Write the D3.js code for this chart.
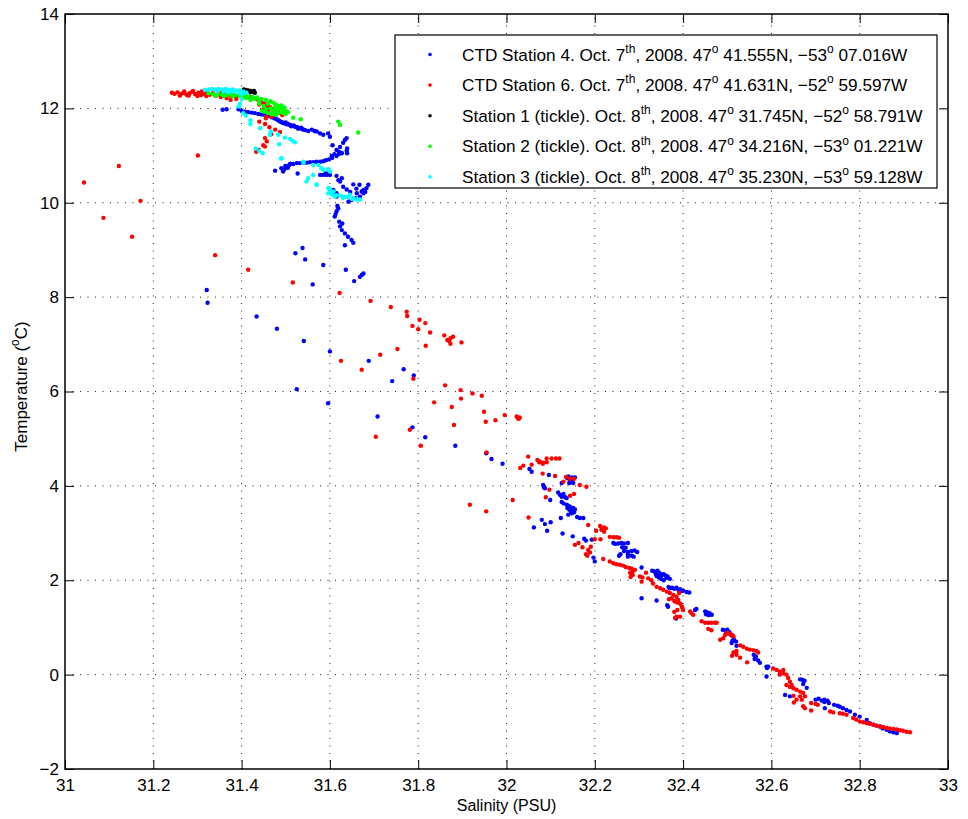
<!DOCTYPE html>
<html>
<head>
<meta charset="utf-8">
<script src="https://cdn.jsdelivr.net/npm/d3@7"></script>
<style>
  body { margin: 0; background: #fff; }
  svg { display: block; font-family: "Liberation Sans", Arial, Helvetica, sans-serif; }
</style>
</head>
<body>
<svg id="chart" width="968" height="819"></svg>
<script>
// Axis ticks
const xTicks = [31, 31.2, 31.4, 31.6, 31.8, 32, 32.2, 32.4, 32.6, 32.8, 33];
const yTicks = [-2, 0, 2, 4, 6, 8, 10, 12, 14];

// [salinity (PSU), temperature (°C)] samples for each cast
const station4 = [
  [31.357,11.97],[31.366,11.98],[31.393,11.98],[31.40,11.95],[31.408,11.93],[31.415,11.92],[31.423,11.91],[31.43,11.90],
  [31.438,11.88],[31.445,11.87],[31.453,11.86],[31.46,11.84],[31.468,11.81],[31.474,11.79],[31.479,11.77],[31.483,11.75],
  [31.487,11.72],[31.492,11.70],[31.498,11.68],[31.503,11.66],[31.51,11.65],[31.515,11.63],[31.521,11.61],[31.526,11.60],
  [31.532,11.58],[31.538,11.56],[31.544,11.54],[31.551,11.52],[31.559,11.55],[31.565,11.52],[31.57,11.51],[31.578,11.47],
  [31.585,11.44],[31.596,11.47],[31.60,11.40],[31.485,11.74],[31.49,11.71],[31.495,11.69],[31.505,11.67],[31.50,11.70],
  [31.512,11.62],[31.518,11.64],[31.528,11.57],[31.535,11.59],[31.54,11.55],
  [31.606,11.22],[31.615,11.12],[31.623,11.18],[31.63,11.27],[31.634,11.33],[31.638,11.37],[31.639,11.15],[31.627,11.05],
  [31.615,10.99],[31.604,10.99],[31.61,11.03],[31.62,11.08],
  [31.502,10.76],[31.508,10.80],[31.51,10.83],[31.517,10.82],[31.525,10.84],[31.532,10.84],[31.54,10.85],[31.548,10.85],
  [31.555,10.86],[31.563,10.86],[31.57,10.87],[31.578,10.87],[31.585,10.88],[31.591,10.90],[31.598,10.92],[31.605,10.95],
  [31.62,11.03],[31.626,11.06],[31.638,11.10],[31.639,11.05],
  [31.476,10.68],[31.494,10.66],[31.49,10.73],[31.499,10.78],[31.505,10.74],[31.497,10.71],[31.527,10.62],
  [31.578,10.59],[31.585,10.59],[31.593,10.59],[31.60,10.59],[31.59,10.62],[31.597,10.64],
  [31.615,10.57],[31.619,10.48],[31.623,10.45],[31.627,10.52],[31.63,10.34],[31.638,10.28],[31.646,10.23],[31.653,10.39],
  [31.667,10.38],[31.676,10.27],[31.683,10.31],[31.687,10.38],[31.668,10.13],[31.661,10.20],[31.676,10.20],[31.68,10.23],
  [31.642,10.02],[31.649,10.06],[31.657,10.10],[31.615,10.13],[31.615,10.20],[31.608,10.27],[31.672,10.24],[31.66,10.3],
  [31.611,9.71],[31.615,9.82],[31.619,9.88],[31.621,9.60],[31.623,9.50],[31.627,9.42],[31.634,9.35],[31.641,9.28],
  [31.649,9.21],[31.653,9.15],[31.634,9.10],[31.613,9.76],[31.617,9.93],[31.628,9.56],
  [31.636,8.58],[31.655,8.34],[31.668,8.43],[31.672,8.47],[31.676,8.50],[31.585,8.68],[31.538,9.04],[31.522,8.93],
  [31.544,8.80],[31.561,8.27],[31.321,8.15],[31.323,7.88],[31.434,7.59],[31.48,7.33],[31.541,7.07],[31.60,6.85],
  [31.688,6.65],[31.741,6.22],[31.525,6.05],[31.596,5.75],[31.708,5.47],
  [31.767,6.47],[31.79,6.34],[31.787,5.24],[31.816,5.03],[31.884,4.85],[31.954,4.69],[31.966,4.57],[31.991,4.47],
  [32.052,4.36],[32.057,4.30],[32.096,4.23],
  [32.14,4.20],[32.144,4.13],[32.148,4.09],[32.151,4.06],[32.142,4.06],[32.125,4.06],[32.138,4.16],[32.148,4.18],
  [32.155,4.18],[32.083,4.02],[32.085,3.97],[32.087,3.95],
  [32.117,3.86],[32.121,3.81],[32.129,3.83],[32.125,3.77],[32.133,3.76],[32.136,3.74],[32.099,3.70],
  [32.125,3.66],[32.129,3.63],[32.136,3.60],[32.14,3.58],[32.144,3.56],[32.138,3.53],[32.142,3.50],[32.148,3.48],
  [32.151,3.53],[32.155,3.50],[32.146,3.46],[32.153,3.44],
  [32.14,3.39],[32.148,3.42],[32.16,3.34],[32.166,3.32],[32.174,3.32],[32.123,3.32],
  [32.08,3.28],[32.087,3.19],[32.10,3.23],[32.092,3.05],[32.062,3.12],[32.127,2.99],[32.15,2.93],[32.176,2.88],
  [32.18,2.84],[32.193,2.86],
  [32.242,2.79],[32.246,2.77],[32.253,2.78],[32.26,2.79],[32.266,2.78],[32.275,2.79],[32.262,2.70],[32.27,2.69],
  [32.266,2.62],[32.275,2.60],[32.283,2.62],[32.29,2.63],[32.275,2.55],[32.284,2.52],[32.275,2.50],[32.288,2.50],
  [32.258,2.55],[32.255,2.52],[32.296,2.60],
  [32.197,2.48],[32.20,2.40],[32.306,2.27],
  [32.33,2.20],[32.334,2.19],[32.338,2.17],[32.342,2.20],[32.346,2.16],[32.338,2.13],[32.342,2.11],[32.348,2.13],
  [32.352,2.11],[32.356,2.13],[32.36,2.10],[32.345,2.06],[32.35,2.03],[32.356,2.00],[32.362,2.05],[32.365,2.08],
  [32.37,2.03],[32.34,2.09],
  [32.367,1.86],[32.37,1.83],[32.375,1.84],[32.38,1.82],[32.385,1.84],[32.393,1.81],[32.40,1.78],[32.408,1.75],
  [32.414,1.74],[32.39,1.79],[32.397,1.77],
  [32.306,1.62],[32.34,1.57],[32.364,1.47],[32.366,1.44],
  [32.384,1.19],[32.427,1.37],[32.43,1.39],[32.45,1.34],[32.455,1.32],[32.46,1.30],[32.465,1.27],[32.452,1.28],[32.458,1.26],
  [32.49,0.95],[32.496,0.93],[32.50,0.95],[32.505,0.90],[32.498,0.87],[32.51,0.83],[32.515,0.75],[32.512,0.72],[32.52,0.70],
  [32.51,0.67],[32.521,0.61],
  [32.56,0.42],[32.565,0.38],[32.562,0.33],[32.57,0.30],[32.574,0.25],
  [32.589,0.17],[32.59,0.14],[32.593,0.17],[32.589,-0.04],
  [32.665,-0.10],[32.67,-0.11],[32.675,-0.13],[32.672,-0.20],[32.68,-0.28],
  [32.631,-0.43],[32.642,-0.46],
  [32.70,-0.53],[32.707,-0.51],[32.714,-0.55],[32.72,-0.53],[32.727,-0.55],[32.72,-0.58],[32.73,-0.60],[32.721,-0.71],
  [32.742,-0.64],[32.75,-0.66],[32.755,-0.68],[32.762,-0.71],[32.77,-0.75],[32.778,-0.78],[32.789,-0.85],
  [32.80,-0.89],[32.816,-0.96],[32.823,-1.03],[32.831,-1.06],[32.846,-1.10],[32.861,-1.17],[32.876,-1.22],[32.884,-1.24],
  [32.868,-1.20],[32.852,-1.14],[32.838,-1.08]
];

const station6 = [
  [31.242,12.33],[31.248,12.31],[31.255,12.34],[31.262,12.30],[31.268,12.33],[31.275,12.29],[31.282,12.32],[31.288,12.35],
  [31.295,12.30],[31.302,12.33],[31.308,12.28],[31.315,12.31],[31.322,12.34],[31.328,12.29],[31.335,12.32],[31.342,12.27],
  [31.348,12.30],[31.355,12.33],[31.362,12.28],[31.368,12.31],[31.375,12.27],[31.382,12.30],[31.388,12.26],[31.395,12.29],
  [31.402,12.25],[31.41,12.28],[31.418,12.24],[31.425,12.22],[31.26,12.27],[31.28,12.27],[31.30,12.26],[31.32,12.26],
  [31.29,12.37],[31.31,12.36],[31.27,12.36],
  [31.43,12.20],[31.438,12.17],[31.445,12.13],[31.452,12.10],[31.458,12.06],[31.464,12.03],[31.47,11.99],[31.476,11.96],
  [31.482,11.93],[31.488,11.90],[31.472,11.92],[31.46,11.96],[31.45,12.00],[31.44,12.08],[31.478,11.88],[31.466,11.86],
  [31.455,11.82],[31.492,11.86],[31.353,12.24],[31.366,12.22],[31.375,12.18],[31.388,12.20],[31.468,11.82],
  [31.44,11.72],[31.453,11.67],[31.463,11.60],[31.476,11.55],[31.487,11.50],[31.467,11.45],[31.453,11.37],[31.457,11.30],
  [31.449,11.22],[31.439,11.12],[31.455,11.79],[31.433,11.08],[31.453,11.19],
  [31.043,10.43],[31.122,10.78],[31.087,9.68],[31.171,10.04],[31.152,9.28],[31.301,11.00],[31.34,8.89],[31.415,8.58],
  [31.516,8.31],[31.622,8.09],[31.692,7.92],[31.738,7.79],[31.753,6.90],[31.714,6.78],[31.625,6.65],[31.672,6.46],[31.704,5.04],
  [31.774,7.69],[31.775,7.60],[31.803,7.52],[31.816,7.45],[31.787,7.39],[31.80,7.32],[31.827,7.25],[31.859,7.19],
  [31.866,7.09],[31.87,7.07],[31.873,7.13],[31.879,7.16],[31.873,7.01],[31.898,7.04],[31.817,6.97],
  [31.789,6.27],[31.861,6.13],[31.896,6.03],[31.897,5.85],[31.836,5.77],[31.923,5.96],[31.944,5.91],[31.876,5.67],
  [31.949,5.57],[31.953,5.36],[31.975,5.39],[31.996,5.50],[32.023,5.47],[32.026,5.43],[32.03,5.45],[32.028,5.42],
  [31.881,5.29],[31.781,5.19],[31.806,4.85],[31.955,4.71],
  [31.917,3.60],[31.954,3.46],[32.014,3.70],[32.05,3.33],
  [32.049,4.62],[32.031,4.38],[32.038,4.43],[32.057,4.45],[32.07,4.55],[32.076,4.51],[32.082,4.47],[32.091,4.58],
  [32.102,4.58],[32.112,4.58],[32.12,4.58],[32.074,4.50],[32.083,4.49],[32.091,4.50],[32.082,4.26],[32.11,4.21],
  [32.135,4.19],[32.144,4.15],[32.153,4.15],[32.129,4.09],[32.166,4.02],[32.181,3.98],[32.097,3.92],[32.153,3.83],
  [32.144,3.79],[32.089,3.76],
  [32.185,3.17],[32.212,3.15],[32.221,3.12],[32.225,3.10],[32.215,3.07],[32.221,3.03],[32.203,3.05],[32.20,2.87],
  [32.213,2.87],[32.234,2.92],[32.242,2.91],[32.249,2.91],[32.255,2.90],
  [32.191,2.71],[32.185,2.64],[32.18,2.55],[32.183,2.52],[32.189,2.59],[32.155,2.75],[32.163,2.79],[32.172,2.70],[32.219,2.45],
  [32.234,2.40],[32.242,2.36],[32.249,2.34],[32.257,2.33],[32.264,2.31],[32.27,2.28],[32.278,2.26],[32.283,2.25],
  [32.291,2.22],[32.286,2.19],[32.28,2.16],[32.286,2.11],[32.281,2.07],[32.308,2.06],[32.306,1.97],
  [32.302,2.08],[32.316,2.16],[32.321,2.04],[32.328,2.00],[32.332,1.93],[32.34,1.86],[32.348,1.83],[32.355,1.80],
  [32.363,1.76],[32.37,1.73],[32.378,1.69],[32.385,1.65],[32.389,1.58],[32.393,1.51],[32.397,1.44],[32.40,1.37],
  [32.382,1.55],[32.374,1.62],[32.391,1.73],[32.368,1.60],[32.38,1.56],[32.387,1.53],[32.394,1.50],[32.398,1.43],
  [32.387,1.37],[32.38,1.33],[32.385,1.23],[32.382,1.20],[32.393,1.23],
  [32.416,1.34],[32.419,1.30],[32.423,1.27],[32.442,1.13],[32.45,1.10],[32.457,1.10],[32.464,1.10],[32.472,1.10],
  [32.476,1.10],[32.457,0.97],[32.464,0.94],
  [32.484,0.74],[32.491,0.77],[32.495,0.84],[32.50,0.89],[32.505,0.86],[32.511,0.84],[32.514,0.81],
  [32.511,0.40],[32.514,0.47],[32.521,0.50],[32.529,0.36],[32.521,0.42],
  [32.529,0.62],[32.536,0.59],[32.544,0.55],[32.551,0.53],[32.559,0.52],[32.566,0.50],[32.57,0.47],[32.545,0.26],
  [32.604,0.13],[32.612,0.10],[32.619,0.06],[32.627,0.03],[32.634,0.00],[32.638,-0.07],[32.642,-0.15],[32.646,-0.22],
  [32.65,-0.29],[32.657,-0.32],[32.665,-0.36],[32.672,-0.39],[32.676,-0.46],[32.665,-0.46],[32.669,-0.53],[32.657,-0.53],
  [32.65,-0.45],[32.634,-0.22],[32.642,-0.26],[32.627,0.10],[32.619,0.00],
  [32.651,-0.59],[32.672,-0.67],[32.676,-0.71],[32.69,-0.76],[32.69,-0.60],[32.70,-0.62],[32.705,-0.64],
  [32.733,-0.78],[32.74,-0.80],[32.755,-0.82],[32.77,-0.85],[32.785,-0.92],[32.80,-0.99],[32.816,-1.03],[32.831,-1.06],
  [32.846,-1.10],[32.861,-1.13],[32.876,-1.15],[32.891,-1.18],[32.906,-1.21],[32.914,-1.22],
  [32.762,-0.83],[32.792,-0.95],[32.808,-1.01],[32.823,-1.04],[32.838,-1.08],[32.853,-1.11],[32.868,-1.14],[32.884,-1.16],[32.898,-1.19]
];

const station1 = [
  [31.405,12.40],[31.41,12.39],[31.415,12.38],[31.42,12.37],[31.425,12.35],[31.43,12.33],[31.412,12.36],[31.42,12.34],[31.428,12.37]
];

const station2 = [
  [31.325,12.32],[31.335,12.30],[31.345,12.29],[31.355,12.30],[31.365,12.28],[31.375,12.30],[31.385,12.28],[31.395,12.27],
  [31.405,12.28],[31.415,12.25],[31.425,12.24],[31.435,12.23],[31.445,12.20],[31.455,12.18],[31.465,12.15],[31.472,12.12],
  [31.478,12.08],[31.483,12.05],[31.488,12.02],[31.492,12.00],[31.496,11.97],[31.50,11.95],[31.49,11.92],[31.482,11.90],
  [31.475,11.89],[31.468,11.88],[31.46,11.90],[31.452,11.93],[31.446,11.95],[31.455,11.98],[31.465,12.00],[31.475,12.02],
  [31.47,11.95],[31.48,11.96],[31.49,12.06],[31.497,12.02],[31.44,12.16],[31.43,12.20],[31.46,12.10],[31.45,12.05],
  [31.44,12.10],[31.42,12.18],[31.485,12.00],[31.495,11.90],[31.478,11.86],[31.50,11.88],[31.505,11.92],
  [31.34,12.27],[31.36,12.26],[31.38,12.25],[31.40,12.24],[31.41,12.22],
  [31.517,11.80],[31.534,11.77],[31.619,11.72],[31.623,11.65],[31.664,11.49]
];

const station3 = [
  [31.317,12.39],[31.325,12.40],[31.333,12.41],[31.34,12.40],[31.348,12.41],[31.356,12.40],[31.364,12.41],[31.372,12.39],
  [31.38,12.40],[31.388,12.38],[31.396,12.38],[31.404,12.36],[31.411,12.33],[31.395,12.32],[31.38,12.35],[31.36,12.36],
  [31.345,12.36],[31.37,12.34],[31.40,12.30],[31.396,12.10],[31.394,12.04],[31.40,12.20],
  [31.404,11.90],[31.41,11.85],[31.42,11.75],[31.42,11.67],[31.442,11.58],[31.466,11.51],[31.464,11.44],[31.483,11.44],
  [31.498,11.38],[31.51,11.35],[31.516,11.31],[31.521,11.28],[31.485,11.24],[31.432,11.15],[31.44,11.10],[31.448,11.05],
  [31.489,10.94],[31.491,10.94],[31.54,10.87],[31.54,10.85],[31.562,10.80],[31.574,10.80],[31.581,10.73],[31.585,10.70],
  [31.596,10.71],[31.60,10.66],[31.596,10.70],[31.562,10.59],[31.551,10.52],[31.547,10.45],[31.57,10.38],[31.57,10.39],
  [31.596,10.31],[31.60,10.27],[31.604,10.23],[31.596,10.20],[31.608,10.24],[31.611,10.13],[31.634,10.13],[31.645,10.17],
  [31.653,10.10],[31.661,10.07],[31.668,10.07],[31.60,10.30],[31.605,10.18],[31.615,10.16],[31.63,10.10],[31.64,10.12],
  [31.65,10.08],[31.625,10.15]
];

const seriesData = [station4, station6, station1, station2, station3];
const seriesColors = ["#0000ff", "#ff0000", "#000000", "#00ff00", "#00ffff"];
const legendLabels = [
  "CTD Station 4. Oct. 7^{th}, 2008. 47^{o} 41.555N, \u221253^{o} 07.016W",
  "CTD Station 6. Oct. 7^{th}, 2008. 47^{o} 41.631N, \u221252^{o} 59.597W",
  "Station 1 (tickle). Oct. 8^{th}, 2008. 47^{o} 31.745N, \u221252^{o} 58.791W",
  "Station 2 (tickle). Oct. 8^{th}, 2008. 47^{o} 34.216N, \u221253^{o} 01.221W",
  "Station 3 (tickle). Oct. 8^{th}, 2008. 47^{o} 35.230N, \u221253^{o} 59.128W"
];
const xLabel = "Salinity (PSU)";
const yLabel = "Temperature (^{o}C)";

// Layout
const L = 65, R = 948, T = 14, B = 769;
const svg = d3.select("#chart");
const x = d3.scaleLinear().domain([31, 33]).range([L, R]);
const y = d3.scaleLinear().domain([-2, 14]).range([B, T]);

// Writes "a^{b}c" style text into a text element as tspans with raised superscripts
function richText(sel, str, size) {
  const parts = str.split(/\^\{([^}]*)\}/);
  const supSize = size * 0.7, lift = size * 0.45;
  let raised = false;
  parts.forEach((p, i) => {
    if (p === "") { return; }
    const isSup = i % 2 === 1;
    const t = sel.append("tspan").text(p);
    if (isSup) {
      t.attr("font-size", supSize).attr("dy", raised ? 0 : -lift);
      raised = true;
    } else {
      t.attr("dy", raised ? lift : 0);
      raised = false;
    }
  });
}

// Dotted grid
const grid = svg.append("g").attr("stroke", "#222").attr("stroke-width", 1)
  .attr("stroke-dasharray", "1,6.5").attr("fill", "none");
xTicks.slice(1, -1).forEach(v => {
  grid.append("line").attr("x1", x(v)).attr("x2", x(v)).attr("y1", B).attr("y2", T);
});
yTicks.slice(1, -1).forEach(v => {
  grid.append("line").attr("x1", L).attr("x2", R).attr("y1", y(v)).attr("y2", y(v));
});

// Data points
seriesData.forEach((data, k) => {
  svg.append("g").attr("fill", seriesColors[k])
    .selectAll("circle").data(data).join("circle")
    .attr("cx", d => x(d[0])).attr("cy", d => y(d[1])).attr("r", 2.2);
});

// Axes with inward ticks on all four sides
const fmt = d3.format("");
function styleAxis(g) {
  g.select(".domain").remove();
  g.selectAll(".tick line").attr("stroke", "#000").attr("stroke-width", 1);
  g.selectAll("text").attr("font-size", 17).attr("fill", "#000")
    .attr("font-family", "'Liberation Sans', Arial, sans-serif");
}
svg.append("g").attr("transform", `translate(0,${B})`)
  .call(d3.axisBottom(x).tickValues(xTicks).tickFormat(fmt).tickSizeInner(-9).tickSizeOuter(0).tickPadding(10))
  .call(styleAxis);
svg.append("g").attr("transform", `translate(${L},0)`)
  .call(d3.axisLeft(y).tickValues(yTicks).tickFormat(fmt).tickSizeInner(-9).tickSizeOuter(0).tickPadding(6))
  .call(styleAxis);
svg.append("g").attr("transform", `translate(0,${T})`)
  .call(d3.axisTop(x).tickValues(xTicks).tickFormat("").tickSizeInner(-9).tickSizeOuter(0))
  .call(styleAxis);
svg.append("g").attr("transform", `translate(${R},0)`)
  .call(d3.axisRight(y).tickValues(yTicks).tickFormat("").tickSizeInner(-9).tickSizeOuter(0))
  .call(styleAxis);

// Plot box
svg.append("rect").attr("x", L).attr("y", T).attr("width", R - L).attr("height", B - T)
  .attr("fill", "none").attr("stroke", "#000").attr("stroke-width", 1.5);

// Axis titles
svg.append("text").attr("x", (L + R) / 2).attr("y", 811).attr("text-anchor", "middle")
  .attr("font-size", 16).text(xLabel);
const yl = svg.append("text").attr("transform", `translate(27,${(T + B) / 2 - 5}) rotate(-90)`)
  .attr("text-anchor", "middle").attr("font-size", 17);
richText(yl, yLabel, 17);

// Legend
const lg = svg.append("g");
lg.append("rect").attr("x", 395).attr("y", 35).attr("width", 542).attr("height", 153)
  .attr("fill", "#fff").attr("stroke", "#000").attr("stroke-width", 1.2);
legendLabels.forEach((lab, i) => {
  const cy = 54.5 + i * 30.6;
  lg.append("circle").attr("cx", 430).attr("cy", cy).attr("r", 1.8).attr("fill", seriesColors[i]);
  const t = lg.append("text").attr("x", 462).attr("y", cy + 6).attr("font-size", 17.2).attr("fill", "#000");
  richText(t, lab, 17.2);
});
</script>
</body>
</html>
